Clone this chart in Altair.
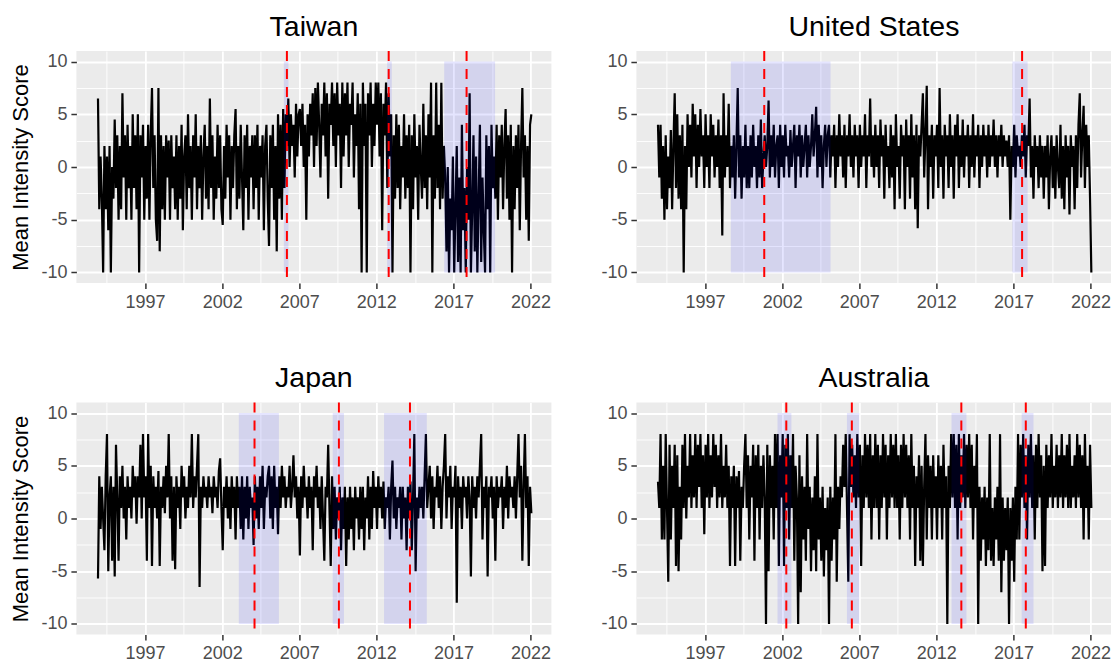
import altair as alt
import numpy as np
import pandas as pd

FONT = "Liberation Sans"

# ---- data: monthly mean intensity scores, Dec 1993 .. Jan 2022 ----
taiwan = [6.5,
  -4, 1, -3, -10, 2, -4, 1, -6, 2, -10, 0, -3,
  4.5, -2, 3, -5, 2, -4, 7, -1, 3, -5, 4, -2,
  2, -5, 5, -2, 3, -4, 5, -10, 3, -1, 4, -5,
  2, -3, 4, -5, 3, 7.5, -2, 3, -5, -7, 7.5, -8,
  3, -4, 2, -5, 3, -1, 2.5, -5, 3, -2, 1, -4,
  3, -5, 2, -3, 4, -6, 1, 3, -4, 5, -2, 2,
  -5, 3, -1, 5, -4, 2, -2, 3, -5, 1, 4, -3,
  2, -4, 6.5, -2, 3, -5, 1, -3, 4, -2, 3, -4,
  -5.5, 2, -3, 4, -1, 3, -5, 2, -2, 3, 5.5, -4,
  2, -3, 4, -1, -6, 3, -2, 4, -5, 2, -1, 3,
  -4, 3, -2, 4, -5, 2, -1, 3, -6, 2, 4, -3,
  -7.5, 3, -2, 4, -5, 2, -8, 5, -3, 4, -5, 5.5,
  -2, 5, 2, 6.5, 0, 5, 2, 4, -1, 6, 1, 5,
  5.5, 2, 6, 0, 4, -5, 5, 1, 6, 3, 7, 0,
  7.5, 2, 8, 4, -1, 6, 3, 8, 1, 7, -3, 6,
  4, 8, 2, 7, 0, 8, 3, 6, -2, 8, 1, 7,
  3, 8, 0, 6, 4, 8, -1, 5, 2, 7, -4, 6,
  -10, 8, 2, 6, -10, 7, 3, 8, 0, 6, 2, 8,
  4, 8, 1, 7, -6, 6, 3, 8, -2, 7, 1, 5,
  -10, 3, -3, 5, -2, 4, -4, 2, -1, 5, -3, 3,
  -2, 4, -10, 3, -4, 5, -1, 2, -5, 4, 0, -3,
  6, -2, 3, -4, 5, -1, 8, -10, 3, -3, 8, -2,
  4, -4, 8, -3, 2, -1, -8, 0, -10, -3, -6, 1,
  -10, -4, 2, -9, -1, -10, 4, -6, -2, -10, 0, -5,
  7, -10, -4, 3, -8, 1, -10, -3, 4, -9, -1, -6,
  -10, 3, -4, 2, -10, 4, -2, 1, -3, 4, -5, 3,
  -1, 4, -4, 2, 5.5, -3, 3, -5, 4, -10, 2, -4,
  3, -2, 4, -6, 2, 7.5, -1, 3, -5, 2, -7, 4,
  5]

united_states = [4,
  -1, 4, -3, 2, -5, 3, -4, 1, -2, 3.5, -4, 2,
  7, -2, 5, -3, 3, -4, 4, -10, 2, -4, 5, 0,
  4, -1, 6, 1, 5, -2, 4, 0, 5.5, 1, 3, -2,
  5, 0, 3, -2, 5, 1, 4, -1, 3, 0, 4.5, -2,
  3, -6.5, 7, -1, 3, 0, 6, -2, 2, -1, 3, -3,
  2, 7.5, -1, 3, -3, 2, -1, 4, -2, 2, -2, 3,
  -1, 4, 0, 2, -2, 3, -1, 4.5, -2, 1, 3, 0,
  2, 6.3, -1, 3, 0, 4, -1, 2, 3, -2, 4, 0,
  3, -1, 4, 1, 2, -1, 3.5, 0, 2, 4, -2, 3,
  1, 4, -1, 3, 0, 2, 4, -1, 3, 0, 2, 5,
  1, 3, 5.7, -1, 4, 0, 3, -2, 2, 4, 0, 3,
  4, -1, 3, 1, 4, -2, 3, 0, 5, 1, 3, -1,
  4, -2, 3, 1, 5, 0, 3, -1, 4, 1, 3, -2,
  4, 0, 3, 1, 5, -2, 3, 1, 6.5, 0, 3, -1,
  4, 0, 3, -2, 4.5, 1, 3, -3, 4, 0, 2, -2,
  4, -1, 3, -4, 5, 0, 2, -3, 4, 1, 3, -4,
  4.5, 0, 3, -3, 5, -1, 3, -4, 4, -5.8, 3, 1,
  4, 7, -1, 3, 7.7, -4, 3, 0, 4, -3, 3, 1,
  4, -2, 7.5, 0, 3, -3, 4, 1, 3, -2, 5, 0,
  3, -3, 4, 1, 5, -2, 3, 0, 4.5, -1, 3, 1,
  4, -2, 3, 0, 5, -1, 3, 1, 4, -2, 3, 0,
  4, 1, 3, -1, 4, 0, 3, 1, 4.5, 0, 3, -1,
  3, 1, 4, 0, 3, 1, 2.5, 0, 3, -5, 2, 0,
  4, -1, 3, 1, 2, 0, 3, 1, 4, -1, 3, 2,
  6.5, -1, 2, -3, 3, 0, 2, -2, 3, -1, 2, -3,
  2, -1, 3, -4, 1, 3, -2, 2, -3, 3, 0, -2,
  4, -3, 2, -4, 3, -1, 2, -4.5, 3, 0, 2, -4,
  3, -2, 4, 7, -1, 3, 5.8, -2, 4, 0, 3, -3,
  -10]

japan = [-5.7,
  4, -1, 3, 0, -3, 4, 8, -5, 2, 4, -4, 3,
  -5.5, 7, 2, -4, 4, 1, 5, 0, 3, -2, 4, 1,
  3, 0, 5, 2, 4, -0.5, 4, 2, 7, 0, 8, 2,
  4, -4, 8, 1, 5, -4.5, 4, 1, 3, 0, 4.5, -4.5,
  3, 1, 4, 0.5, 5, 2, 8, 0, 4, -4, 3, -4.8,
  4, 1, 3, -1, 5, 2, 4, 0, 3, 1, 5, 2,
  8, 1, 4, 2, 5, 8, -6.5, 3, 1, 4, 2, 3,
  1, 4, 2, 3, 0.5, 4, 2, 3, 1, 4.5, 5.7, 1,
  -3, 3, 1, 4, 0, 3, -1, 4, 1, 3, -2, 4,
  1, 3, -1, 4, -2, 3, 0, 4, -1, 3, 1, 2,
  -2.5, 4, 0, 3, -1, 4, 1, 5, -1, 3, 2, 4,
  5, 0, 4, -1, 5, 1, 3, -1.5, 4, 1, 5, 2,
  4, 1, 3, 2, 5, 1, 3, 6, 2, 4, 0, 3,
  -3.5, 4, 1, 5, 2, 3, 0, 4, 1, 3, -3, 4,
  2, 5, 1, 3, -1, 4, 0, -4, 3, 2, 7, 1,
  -4.5, 4, -1, 3, -2, 2, 0, 3, -3, 2, -1, 3,
  -4.5, 2, -2, 3, -1, 2, -3, 3, 0, 2, -2, 3,
  -1, 3, -3, 2, 0, 4, -2, 3, -1, 4.5, 1, 3,
  -1, 4, 1, 3, 0, 3.5, -1, 2, 1, 3, -2, 3,
  5.5, 0, 3, -1, 2, 1, 3, -2, 3, 0, 2, -3,
  3, 0, 3.5, -3, 2, 8, -5, 2, 0, 3, 1, 3,
  0, 4, 8, 1, 3, 5, 0, 4, -1, 3, 2, 5,
  1, 4, -1, 3, 5, 8, 0, 4, 2, 5, -1, 3,
  2, 5, -8, 4, 1, 3, -1, 4, 2, 3, 0, 4,
  2, -5.5, 4, 1, 3, 0, 4, 2, 5, 8, -2, 3,
  1, 4, -5.5, 3, 2, 4, 0, 3, -4, 4, 1, 3,
  2, 4, -1, 3, 1, 5, 0, 4, 2, 3, 1, 4,
  0, 4, 8, 2, 5, -4, 3, 8, 1, 4, -4.5, 3,
  0.5]

australia = [3.5,
  1, 8, -2, 5, -2, 8, 1, -6, 7, -2, 5, 1,
  7, -4.5, 6, -5, 3, -2, 7, 1, 8, 0, 5, 2,
  8, 1, 6, 2, 8, 1, 7, 3, 8, 1, 6, -1.5,
  7, 2, 8, 1, 6, 2, 8, 3, 7, 1, 6, 2,
  8, 1, 5, 2, 7, 1, 5, -4.5, 4, 1, 5, -4.5,
  4, 1, 4.5, -4, 3, 1, 5, 8, 1, 6, -2, 5,
  2, 7, -4, 6, 1, 7, -2, 5, 1, 6, 2, -10,
  7, -5, 6, 1, 5, -2, 8, 1, 8, -4.5, 6, 2,
  8, -4.5, 7, 1, 8, -2, 6, 1, 8, -4, 5, 2,
  -10, 6, -7, 4, -2, 3, -4, 8, -1, 3, -5, 2,
  -3, 4, -5, 8, -2, 2, -4, 3, -5.5, 1, -3, 2,
  -10, 3, -4, 2, -2, 8, -6, 3, -1, 4, 2, 7,
  3, 8, 1, -6, 8, 3, 7, 2, 6, 1, 8, 2,
  7, -4.5, 6, 1, 8, 2, 7, 1, 8, -2, 6, 1,
  8, 1, 7, -2, 6, 1, 8, 2, 7, -2, 6, 1,
  8, 2, 7, 1, 8, 1, 6, -2, 7, 1, 8, 2,
  7, 1, 6, -2, 8, 1, 5, -4.5, 4, 1, 6, -4,
  5, -4.5, 3, 8, -2, 6, 1, 5, -2, 6, 1, 4,
  -2, 6, 1, 5, -2, 7, 1, 4, -10, 5, 1, 8,
  2, 8, 1, 7, -2, 8, 1, 6, 2, 8, 1, 7,
  2, 8, 1, 7, -2, 5, 1, 8, -10, 3, -4, 2,
  -2, 3, -4.5, 2, -3, 8, -4, 1, -4.5, 2, -2, 3,
  -4, 8, -7, 2, -4, 1, -3, 2, -10, 1, -4, 2,
  -6, 3, -2, 8, -2, 7, 2, 8, 1, 6, -2, 7,
  2, 8, 1, 6, -2, 7, 1, 8, 2, 6, -5, 5,
  -4.5, 7, 1, 6, 2, 8, 1, 5, 2, 7, 1, 6,
  2, 8, 1, 6, 2, 7, 1, 8, 1, 5, 2, 6,
  1, 8, 2, 7, 1, 6, -2, 8, 1, 5, -2, 7,
  1]

# shaded periods (start, end) and dashed event lines, in decimal years
shade_taiwan = [(2006.0, 2006.3), (2012.7, 2013.0), (2016.4, 2019.7)]
event_taiwan = [2006.2, 2012.8, 2017.85]
shade_us = [(1998.67, 2005.14), (2016.93, 2017.92)]
event_us = [2000.84, 2017.56]
shade_japan = [(2003.08, 2005.68), (2009.17, 2009.9), (2012.5, 2015.27)]
event_japan = [2004.1, 2009.57, 2014.18]
shade_australia = [(2001.7, 2002.6), (2006.2, 2007.0), (2012.98, 2013.95), (2017.53, 2018.3)]
event_australia = [2002.27, 2006.52, 2013.62, 2017.8]

x_major = [1997, 2002, 2007, 2012, 2017, 2022]
x_minor = [1994.5, 1999.5, 2004.5, 2009.5, 2014.5, 2019.5]
y_major = [-10, -5, 0, 5, 10]
y_minor = [-7.5, -2.5, 2.5, 7.5]

START, END = 1993.95, 2022.05
PANEL_W, PANEL_H = 475, 232
X_DOMAIN = [1992.55, 2023.35]


def x_axis():
    test = "(datum.value - 1997) % 5 == 0"
    return alt.Axis(
        values=sorted(x_major + x_minor),
        labelExpr=f"{test} ? '' + datum.value : ''",
        labelOverlap=False, labelFlush=False, domain=False,
        grid=True, gridColor="white",
        gridWidth={"condition": {"test": test, "value": 1.8}, "value": 0.9},
        tickOpacity={"condition": {"test": test, "value": 1}, "value": 0},
        tickColor="#333333", tickSize=5.5, tickWidth=1.5,
        labelColor="#4D4D4D", labelFontSize=18, labelFont=FONT, labelPadding=5,
    )


def y_axis(with_title):
    test = "datum.value % 5 == 0"
    kw = {}
    if with_title:
        kw = dict(title="Mean Intensity Score", titleFontSize=22, titleFont=FONT,
                  titleFontWeight="normal", titleColor="black", titlePadding=8)
    return alt.Axis(
        values=sorted(y_major + y_minor),
        labelExpr=f"{test} ? '' + datum.value : ''",
        labelOverlap=False, labelFlush=False, domain=False,
        grid=True, gridColor="white",
        gridWidth={"condition": {"test": test, "value": 1.8}, "value": 0.9},
        tickOpacity={"condition": {"test": test, "value": 1}, "value": 0},
        tickColor="#333333", tickSize=5.5, tickWidth=1.5,
        labelColor="#4D4D4D", labelFontSize=18, labelFont=FONT, labelPadding=4,
        **kw,
    )


def panel(name, values, shades, events, with_title):
    df = pd.DataFrame({"year": np.linspace(START, END, len(values)), "score": values})
    sdf = pd.DataFrame({"x1": [s[0] for s in shades], "x2": [s[1] for s in shades],
                        "lo": [-10] * len(shades), "hi": [10] * len(shades)})
    edf = pd.DataFrame({"ev": events})
    xs = alt.Scale(domain=X_DOMAIN, nice=False, zero=False)
    ys = alt.Scale(domain=[-11, 11], nice=False, zero=False)
    ytitle = "Mean Intensity Score" if with_title else None
    yax = y_axis(with_title)
    xax = x_axis()

    line = alt.Chart(df).mark_line(color="black", strokeWidth=2.2).encode(
        x=alt.X("year:Q", scale=xs, axis=xax, title=None),
        y=alt.Y("score:Q", scale=ys, axis=yax, title=ytitle),
    )
    rect = alt.Chart(sdf).mark_rect(color="blue", opacity=0.1).encode(
        x=alt.X("x1:Q", scale=xs, axis=xax, title=None), x2="x2:Q",
        y=alt.Y("lo:Q", scale=ys, axis=yax, title=ytitle), y2="hi:Q",
    )
    rule = alt.Chart(edf).mark_rule(color="red", strokeDash=[10, 8], strokeWidth=2).encode(
        x=alt.X("ev:Q", scale=xs, axis=xax, title=None),
    )
    return alt.layer(line, rect, rule).properties(
        width=PANEL_W, height=PANEL_H,
        title=alt.TitleParams(name, fontSize=28.5, font=FONT, fontWeight="normal",
                              color="black", anchor="middle", offset=-14.5,
                              baseline="alphabetic"),
    )


row1 = alt.hconcat(
    panel("Taiwan", taiwan, shade_taiwan, event_taiwan, True),
    panel("United States", united_states, shade_us, event_us, False),
    spacing=49,
)
row2 = alt.hconcat(
    panel("Japan", japan, shade_japan, event_japan, True),
    panel("Australia", australia, shade_australia, event_australia, False),
    spacing=49,
)

chart = alt.vconcat(row1, row2, spacing=52.5).properties(
    padding={"top": 5, "left": 1.4, "right": 0, "bottom": 0},
    background="white",
).configure_view(fill="#EBEBEB", strokeWidth=0)

chart.save("out.html", embed_options={"renderer": "svg", "actions": False})
